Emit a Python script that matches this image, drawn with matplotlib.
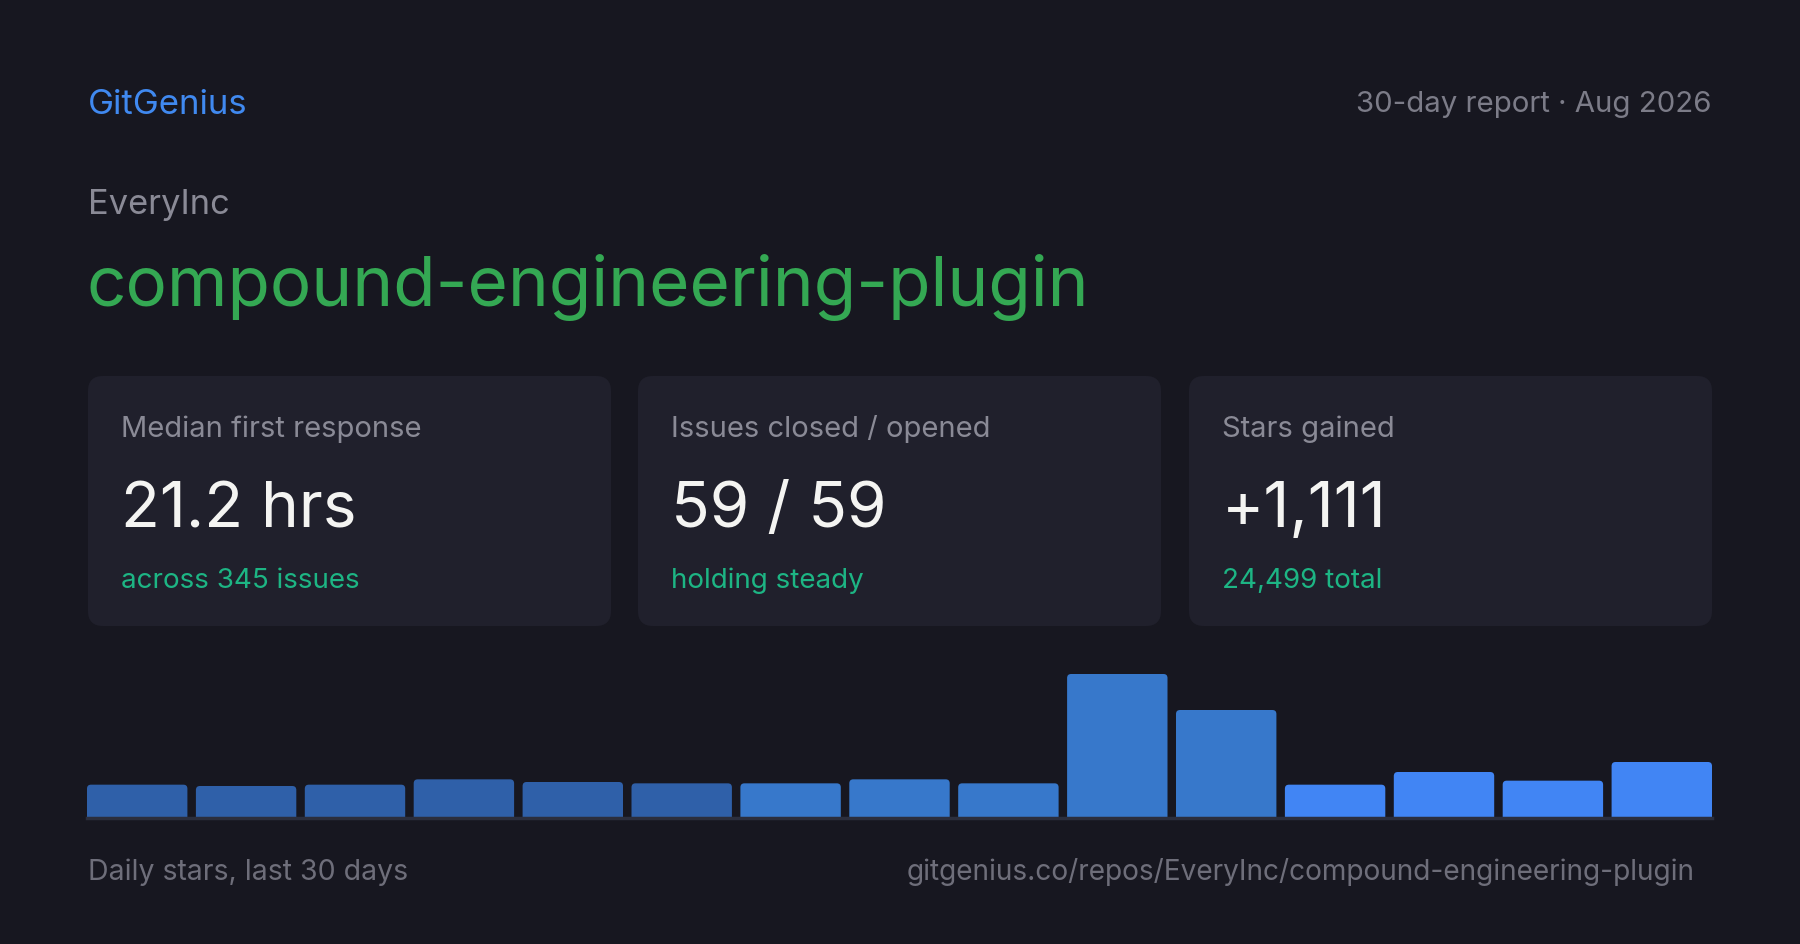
import matplotlib.pyplot as plt
from matplotlib.patches import FancyBboxPatch

plt.rcParams['font.family'] = ['Inter', 'DejaVu Sans']

# data
brand = 'GitGenius'
report = '30-day report · Aug 2026'
owner = 'EveryInc'
repo = 'compound-engineering-plugin'
card_labels = ['Median first response', 'Issues closed / opened', 'Stars gained']
card_values = ['21.2 hrs', '59 / 59', '+1,111']
card_notes = ['across 345 issues', 'holding steady', '24,499 total']
daily_stars = [50, 48, 50, 58, 54, 52, 52, 58, 52, 216, 162, 50, 69, 56, 84]
bar_colors = ['#2f60a9'] * 6 + ['#3778cb'] * 5 + ['#4185f4'] * 4
footer_left = 'Daily stars, last 30 days'
footer_right = 'gitgenius.co/repos/EveryInc/compound-engineering-plugin'

W, H = 1800, 945
bg = '#171720'
card_bg = '#20202c'
grey = '#8a8a96'

fig = plt.figure(figsize=(W / 100, H / 100), dpi=100, facecolor=bg)

# full-figure axes in pixel coords for cards and text
base = fig.add_axes([0, 0, 1, 1])
base.set_xlim(0, W)
base.set_ylim(H, 0)
base.axis('off')
base.set_facecolor(bg)

base.text(88, 114, brand, color='#4089f0', fontsize=25, va='baseline')
base.text(1712, 112, report, color='#7c7c88', fontsize=21.2, va='baseline', ha='right')
base.text(88, 214, owner, color=grey, fontsize=24.8, va='baseline')
base.text(86, 306, repo, color='#34a853', fontsize=49.8, va='baseline')

card_x = [88, 638, 1189]
card_w = 523
for i in range(3):
    x0 = card_x[i]
    base.add_patch(FancyBboxPatch((x0 + 15, 377 + 15), card_w - 30, 250 - 30,
                                  boxstyle='round,pad=15', fc=card_bg, ec='none'))
    base.text(x0 + 33, 437, card_labels[i], color=grey, fontsize=21, va='baseline')
    base.text(x0 + 33, 527, card_values[i], color='#f4f4f2', fontsize=46, va='baseline')
    base.text(x0 + 33, 588, card_notes[i], color='#1db584', fontsize=20, va='baseline')

base.text(88, 880, footer_left, color='#6e6e7a', fontsize=20.5, va='baseline')
base.text(1695, 880, footer_right, color='#6e6e7a', fontsize=20.2, va='baseline', ha='right')

# bar chart
x0_px, x1_px = 87, 1712
y_base, y_top = 819, 675
ax = fig.add_axes([x0_px / W, (H - y_base) / H, (x1_px - x0_px) / W, (y_base - y_top) / H])
ax.set_facecolor('none')
xs = list(range(len(daily_stars)))
bw = 0.922
bars = ax.bar(xs, daily_stars, width=bw, color=bar_colors, edgecolor='none')
ax.set_xlim(-bw / 2, len(daily_stars) - 1 + bw / 2)
ax.set_ylim(0, max(daily_stars))

# swap each bar for one with rounded top corners (bottom hidden under the baseline)
px_x = (x1_px - x0_px) / (len(daily_stars) - 1 + bw)
px_y = (y_base - y_top) / max(daily_stars)
r = 4 / px_x
aspect = (4 / px_y) / r
for b in bars:
    b.set_visible(False)
    ax.add_patch(FancyBboxPatch((b.get_x(), -10), b.get_width(), b.get_height() + 10,
                                boxstyle=f'round,pad=0,rounding_size={r}',
                                mutation_aspect=aspect, fc=b.get_facecolor(), ec='none'))
ax.axhline(0, color='#2b2e3d', lw=2.5, clip_on=False, zorder=5)
ax.axis('off')

fig.savefig('out.png', dpi=100, facecolor=bg)
